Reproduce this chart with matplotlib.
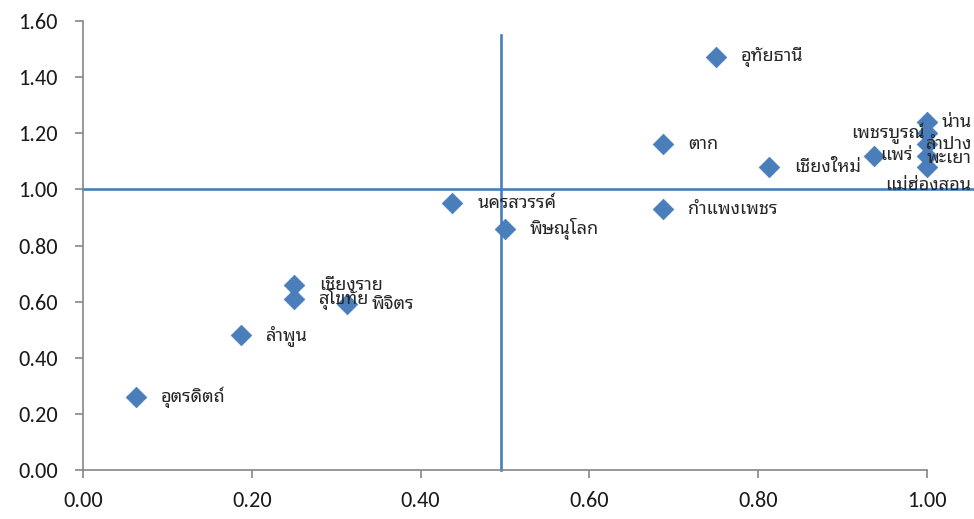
import matplotlib
matplotlib.use("Agg")
import matplotlib.pyplot as plt
from matplotlib import font_manager as fm

# ---------------- data ----------------
provinces = ["อุทัยธานี", "ตาก", "เชียงใหม่", "แพร่", "น่าน", "เพชรบูรณ์", "ลำปาง",
             "พะเยา", "แม่ฮ่องสอน", "นครสวรรค์", "พิษณุโลก", "กำแพงเพชร",
             "เชียงราย", "สุโขทัย", "พิจิตร", "ลำพูน", "อุตรดิตถ์"]
x_vals = [0.75, 0.6875, 0.8125, 0.9375, 1.0, 1.0, 1.0,
          1.0, 1.0, 0.4375, 0.5, 0.6875,
          0.25, 0.25, 0.3125, 0.1875, 0.0625]
y_vals = [1.47, 1.16, 1.08, 1.12, 1.24, 1.20, 1.16,
          1.12, 1.08, 0.95, 0.86, 0.93,
          0.66, 0.61, 0.59, 0.48, 0.26]
x_ref = 0.495      # vertical reference line
y_ref = 1.00       # horizontal reference line
v_top = 1.55
x_ticks = [0.0, 0.2, 0.4, 0.6, 0.8, 1.0]
y_ticks = [0.0, 0.2, 0.4, 0.6, 0.8, 1.0, 1.2, 1.4, 1.6]

# ---------------- fonts ----------------
available = {f.name for f in fm.fontManager.ttflist}
def pick(cands, default):
    for c in cands:
        if c in available:
            return c
    return default
thai_font = pick(["Noto Sans Thai Looped", "Noto Sans Thai", "Sarabun", "Tahoma"], "DejaVu Sans")
num_font = pick(["Carlito", "Calibri", "Lato"], "DejaVu Sans")

# label placement (pixel offsets from point, alignment)
label_pos = {
    "เพชรบูรณ์": (-2, 0, "right", "center"),
    "แพร่": (6, 1, "left", "center"),
    "น่าน": (45, 0, "right", "center"),
    "ลำปาง": (45, 0, "right", "center"),
    "พะเยา": (45, -2, "right", "center"),
    "แม่ฮ่องสอน": (44, -18, "right", "center"),
}

blue = "#4A7EBB"
axis_grey = "#868686"

fig = plt.figure(figsize=(9.74, 5.19), dpi=100)
ax = fig.add_axes([83/974, 49/519, 844/974, 449/519])
ax.set_xlim(0, 1.0)
ax.set_ylim(0, 1.6)

# reference lines
ax.plot([0, 1.056], [y_ref, y_ref], color=blue, lw=1.9, clip_on=False, zorder=2)
ax.plot([x_ref, x_ref], [0, v_top], color=blue, lw=1.9, clip_on=False, zorder=2)

ax.scatter(x_vals, y_vals, marker="D", s=110, color=blue, edgecolors=blue,
           linewidths=0.5, zorder=3, clip_on=False)

for name, xv, yv in zip(provinces, x_vals, y_vals):
    dx, dy, ha, va = label_pos.get(name, (25, 0, "left", "center"))
    ax.annotate(name, xy=(xv, yv), xytext=(dx, dy), textcoords="offset pixels",
                ha=ha, va=va, fontsize=13, family=[thai_font, "DejaVu Sans"],
                color="#262626", zorder=4, annotation_clip=False)

ax.set_xticks(x_ticks)
ax.set_yticks(y_ticks)
ax.set_xticklabels([f"{t:.2f}" for t in x_ticks])
ax.set_yticklabels([f"{t:.2f}" for t in y_ticks])
for lbl in ax.get_xticklabels() + ax.get_yticklabels():
    lbl.set_family([num_font, "DejaVu Sans"])
    lbl.set_fontsize(16)
    lbl.set_color("#1a1a1a")

for s in ["top", "right"]:
    ax.spines[s].set_visible(False)
for s in ["left", "bottom"]:
    ax.spines[s].set_color(axis_grey)
    ax.spines[s].set_linewidth(1.2)
ax.tick_params(axis="both", direction="out", length=6, width=1.2, color=axis_grey)
ax.tick_params(axis="y", pad=12)
ax.tick_params(axis="x", pad=9)
ax.patch.set_alpha(0)

fig.savefig("out.png", dpi=100)
